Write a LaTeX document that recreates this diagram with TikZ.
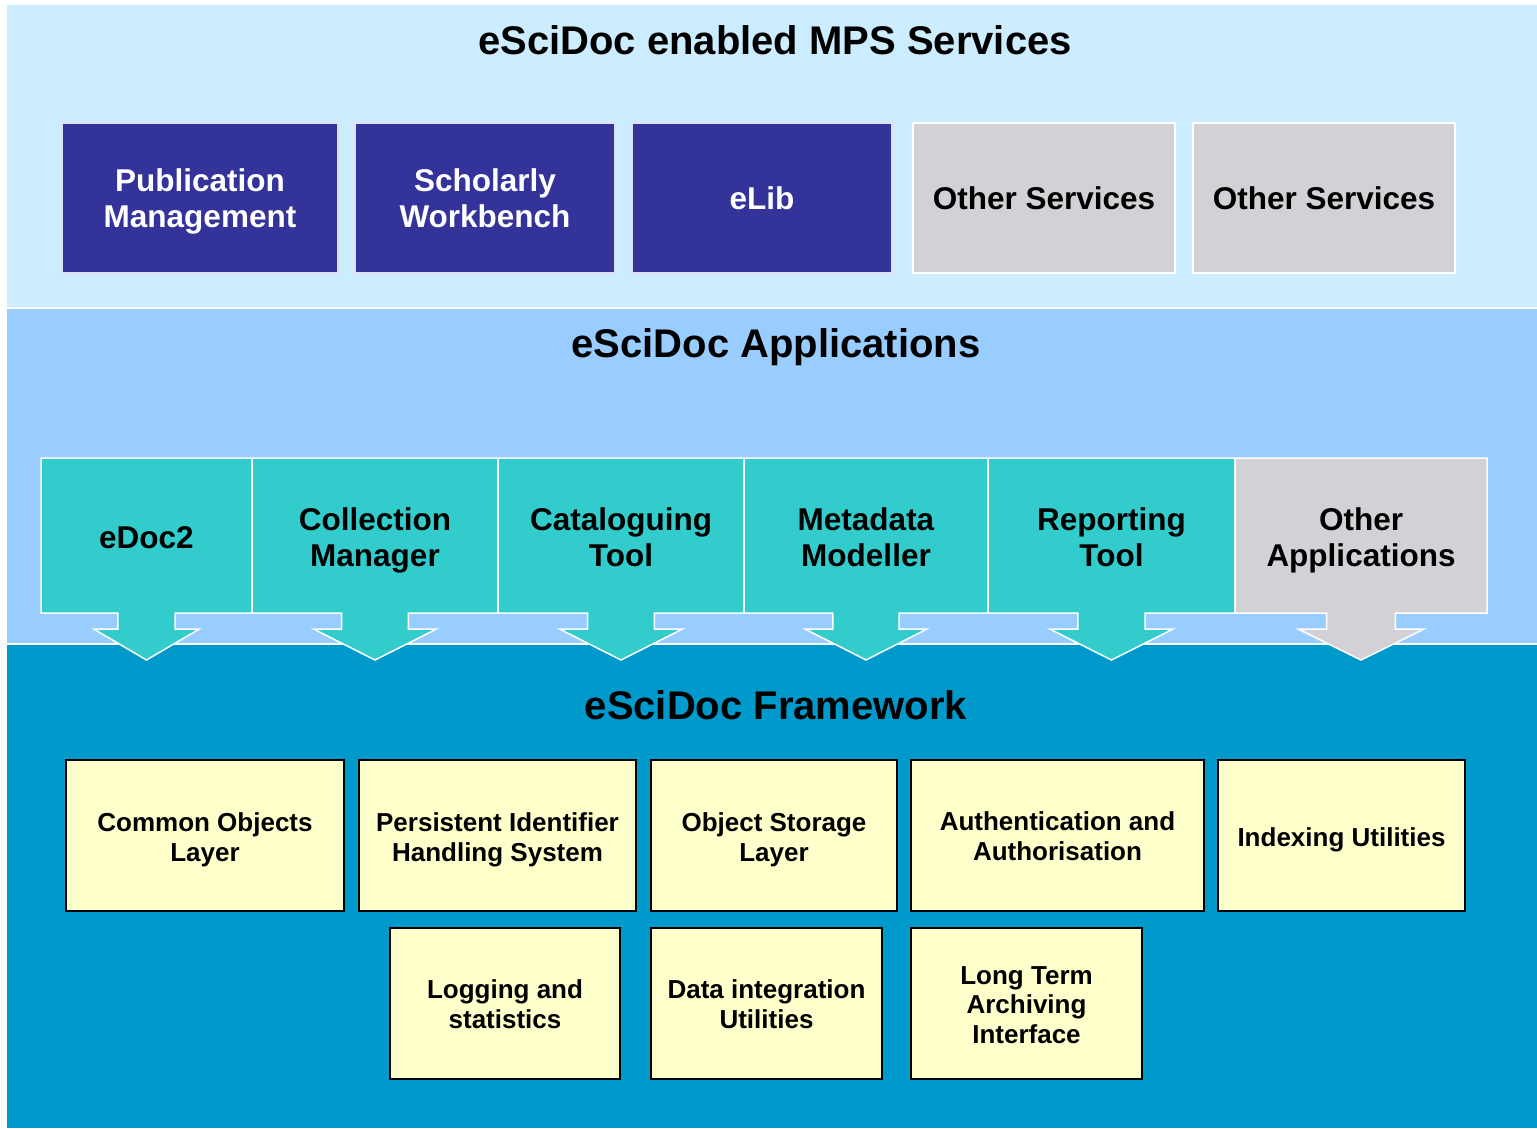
\documentclass[tikz,border=0pt]{standalone}
\usepackage{fontspec}
\setmainfont{Liberation Sans}
\definecolor{bandA}{HTML}{CCECFF}
\definecolor{bandB}{HTML}{99CCFF}
\definecolor{bandC}{HTML}{0099CC}
\definecolor{svcblue}{HTML}{333399}
\definecolor{appteal}{HTML}{33CCCC}
\definecolor{othergray}{HTML}{D3D1D5}
\definecolor{fwyellow}{HTML}{FFFFCC}
\newcommand\appshape[5]{%
  \pgfmathsetmacro\acx{(#1+#2)/2}%
  \pgfmathsetmacro\aw{#2-#1}%
  \pgfmathsetmacro\asa{\acx-0.136*\aw}%
  \pgfmathsetmacro\asb{\acx+0.136*\aw}%
  \pgfmathsetmacro\aha{\acx-0.25*\aw}%
  \pgfmathsetmacro\ahb{\acx+0.25*\aw}%
  \draw[appline, fill=#3] (#1,458) -- (#2,458) -- (#2,613) -- (\asb,613) -- (\asb,629) -- (\ahb,629) -- (\acx,660) -- (\aha,629) -- (\asa,629) -- (\asa,613) -- (#1,613) -- cycle;
  \node[apptext] (#4) at (\acx,537) {#5};
}
\begin{document}
\begin{tikzpicture}[x=1pt,y=-1pt,
  titletext/.style={font=\fontsize{40}{44}\selectfont\bfseries, anchor=base, inner sep=0pt},
  svcbox/.style={draw=white!85!svcblue, line width=1.2pt, fill=svcblue, text=white, align=center,
     font=\fontsize{31.5}{36}\selectfont\bfseries, inner sep=0pt, text depth=0pt},
  otherbox/.style={svcbox, fill=othergray, draw=white, text=black},
  appline/.style={draw=white, line width=1.5pt, line join=miter},
  apptext/.style={align=center, font=\fontsize{31.5}{36}\selectfont\bfseries, text=black, inner sep=0pt, text depth=0pt},
  fwbox/.style={draw=black, line width=2pt, fill=fwyellow, align=center,
     font=\fontsize{26}{29.5}\selectfont\bfseries, inner sep=0pt, text depth=0pt}]
\useasboundingbox (0,0) rectangle (1537,1128);
\fill[white] (0,0) rectangle (1537,1128);
% bands
\fill[bandA] (7,5) rectangle (1537,306.5);
\fill[bandB] (7,309) rectangle (1537,642.5);
\fill[bandC] (7,645) rectangle (1537,1128);
\node[titletext] (t1) at (775,54) {eSciDoc enabled MPS Services};
\node[titletext] (t2) at (776,357) {eSciDoc Applications};
\node[titletext] (t3) at (776,719) {eSciDoc Framework};
% services
\draw[svcbox] (62,123) rectangle (338,273);
\node[svcbox, draw=none, fill=none] (pm) at (200,198) {Publication\\Management};
\draw[svcbox] (355,123) rectangle (615,273);
\node[svcbox, draw=none, fill=none] (sw) at (485,198) {Scholarly\\Workbench};
\draw[svcbox] (632,123) rectangle (892,273);
\node[svcbox, draw=none, fill=none] (el) at (762,198) {eLib};
\draw[otherbox] (913,123) rectangle (1175,273);
\node[otherbox, draw=none, fill=none] (os1) at (1044,198) {Other Services};
\draw[otherbox] (1193,123) rectangle (1455,273);
\node[otherbox, draw=none, fill=none] (os2) at (1324,198) {Other Services};
% applications
\appshape{41}{252}{appteal}{edoc}{eDoc2}
\appshape{252}{498}{appteal}{cm}{Collection\\Manager}
\appshape{498}{744}{appteal}{ct}{Cataloguing\\Tool}
\appshape{744}{988}{appteal}{mm}{Metadata\\Modeller}
\appshape{988}{1235}{appteal}{rt}{Reporting\\Tool}
\appshape{1235}{1487}{othergray}{oa}{Other\\Applications}
% framework
\draw[fwbox] (66,760) rectangle (344,911);
\node[fwbox, draw=none, fill=none] (col) at (205,837) {Common Objects\\Layer};
\draw[fwbox] (359,760) rectangle (636,911);
\node[fwbox, draw=none, fill=none] (pid) at (497.5,837) {Persistent Identifier\\Handling System};
\draw[fwbox] (651,760) rectangle (897,911);
\node[fwbox, draw=none, fill=none] (osl) at (774,837) {Object Storage\\Layer};
\draw[fwbox] (911,760) rectangle (1204,911);
\node[fwbox, draw=none, fill=none] (aa) at (1057.5,836) {Authentication and\\Authorisation};
\draw[fwbox] (1218,760) rectangle (1465,911);
\node[fwbox, draw=none, fill=none] (iu) at (1341.5,837) {Indexing Utilities};
\draw[fwbox] (390,928) rectangle (620,1079);
\node[fwbox, draw=none, fill=none] (ls) at (505,1004) {Logging and\\statistics};
\draw[fwbox] (651,928) rectangle (882,1079);
\node[fwbox, draw=none, fill=none] (di) at (766.5,1004) {Data integration\\Utilities};
\draw[fwbox] (911,928) rectangle (1142,1079);
\node[fwbox, draw=none, fill=none] (lt) at (1026.5,1005) {Long Term\\Archiving\\Interface};
\end{tikzpicture}
\end{document}
